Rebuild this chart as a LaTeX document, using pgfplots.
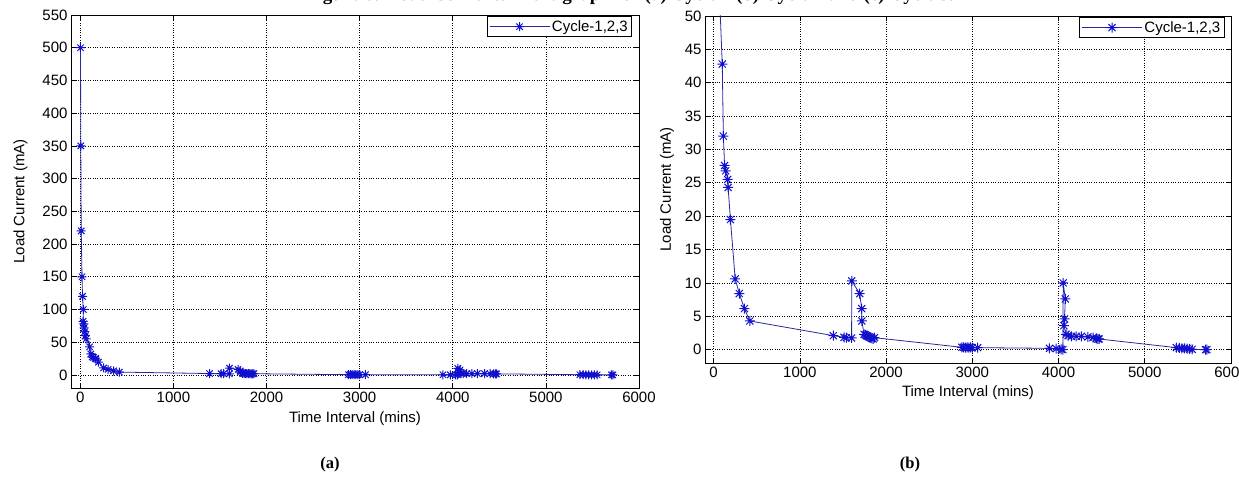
\documentclass[border=0pt]{standalone}
\usepackage{pgfplots}
\pgfplotsset{compat=1.18}
\usepackage{pgfplotstable}
\usepackage{fontspec}
\setmainfont{Liberation Sans}
\newfontfamily\serifb{Liberation Serif}
\definecolor{mline}{RGB}{40,40,160}
\definecolor{mmark}{RGB}{15,15,205}
\pgfdeclareplotmark{mstar}{%
 \pgfpathmoveto{\pgfqpoint{-\pgfplotmarksize}{0pt}}\pgfpathlineto{\pgfqpoint{\pgfplotmarksize}{0pt}}%
 \pgfpathmoveto{\pgfqpoint{0pt}{-\pgfplotmarksize}}\pgfpathlineto{\pgfqpoint{0pt}{\pgfplotmarksize}}%
 \pgfpathmoveto{\pgfqpoint{-0.707\pgfplotmarksize}{-0.707\pgfplotmarksize}}\pgfpathlineto{\pgfqpoint{0.707\pgfplotmarksize}{0.707\pgfplotmarksize}}%
 \pgfpathmoveto{\pgfqpoint{-0.707\pgfplotmarksize}{0.707\pgfplotmarksize}}\pgfpathlineto{\pgfqpoint{0.707\pgfplotmarksize}{-0.707\pgfplotmarksize}}%
 \pgfusepathqstroke}

\pgfplotstableread{
t v
2 500
5 350
10 220
18 150
24 120
32 100
30 82
38 78
42 72
48 66
55 60
62 55
100 42.8
113 32.0
127 27.6
140 26.8
163 25.5
168 24.3
195 19.5
250 10.6
298 8.4
357 6.15
419 4.3
1388 2.1
1512 1.85
1539 1.8
1600 1.75
1602 10.3
1694 8.4
1717 6.15
1719 4.3
1744 2.3
1760 2.2
1775 2.1
1790 2.0
1805 1.9
1820 1.8
1835 1.7
1850 1.6
1865 1.8
2880 0.35
2900 0.35
2920 0.3
2940 0.35
2960 0.3
2980 0.35
3000 0.3
3062 0.3
3895 0.2
3973 0.15
4031 0.05
4050 0.0
4054 10.0
4078 7.6
4070 4.6
4062 3.6
4089 2.3
4110 2.1
4150 2.0
4205 2.0
4264 2.0
4341 1.9
4400 1.8
4438 1.7
4457 1.6
4470 1.6
5366 0.3
5400 0.25
5430 0.2
5460 0.2
5490 0.15
5520 0.1
5550 0.05
5705 0.0
5720 0.0
}\loadtab

\pgfplotsset{mstyle/.style={
  scale only axis,
  axis line style={black, line width=0.9pt},
  xmin=-100, xmax=6000,
  xtick={0,1000,...,6000},
  grid=major,
  grid style={dotted, black, line width=0.7pt},
  tick align=inside,
  major tick length=5pt,
  tick style={black, line width=0.7pt},
  ticklabel style={font=\fontsize{15}{17}\selectfont},
  label style={font=\fontsize{15}{17}\selectfont},
  /pgf/number format/assume math mode=true,
  scaled ticks=false,
  /pgf/number format/set thousands separator={},
  xlabel={Time Interval (mins)},
  ylabel={Load Current (mA)},
  legend style={at={(rel axis cs:0.988,0.997)}, anchor=north east, draw=black, line width=0.8pt,
     font=\fontsize{15}{17}\selectfont, inner sep=2pt, row sep=0pt},
  legend image code/.code={\draw[##1,mark repeat=2,mark phase=2] plot coordinates {(0pt,0pt) (30pt,0pt) (60pt,0pt)};},
  legend cell align=left,
}}

\begin{document}
\begin{tikzpicture}
\begin{axis}[mstyle, at={(71pt,91pt)}, anchor=south west, width=568pt, height=373pt,
  ymin=-20, ymax=550, ytick={0,50,...,550},
  xlabel style={yshift=-3pt}, ylabel style={yshift=8pt}]
\addplot[mline, line width=0.8pt, mark=mstar, mark size=4.5pt, mark options={mmark, line width=1pt, solid}] table {\loadtab};
\legend{Cycle-1{,}2{,}3}
\end{axis}

\begin{axis}[mstyle, at={(705pt,116pt)}, anchor=south west, width=526pt, height=347pt,
  ymin=-2, ymax=50, ytick={0,5,...,50},
  xlabel style={yshift=-2pt}, ylabel style={yshift=4pt}]
\addplot[mline, line width=0.8pt, mark=mstar, mark size=5pt, mark options={mmark, line width=1pt, solid}] table {\loadtab};
\legend{Cycle-1{,}2{,}3}
\end{axis}

\node[anchor=base, inner sep=0pt, font=\serifb\bfseries\fontsize{19}{22}\selectfont] at (630pt,478pt)
  {Figure 6: Load Currents in the graph for (a) Cycle 1 (b) Cycle 2 and (c) Cycle 3.};
\node[font=\serifb\bfseries\fontsize{16.5}{19}\selectfont] at (330pt,14pt) {(a)};
\node[font=\serifb\bfseries\fontsize{16.5}{19}\selectfont] at (910pt,14pt) {(b)};
\pgfresetboundingbox
\path[use as bounding box] (0pt,0pt) rectangle (1239pt,479pt);
\end{tikzpicture}
\end{document}
